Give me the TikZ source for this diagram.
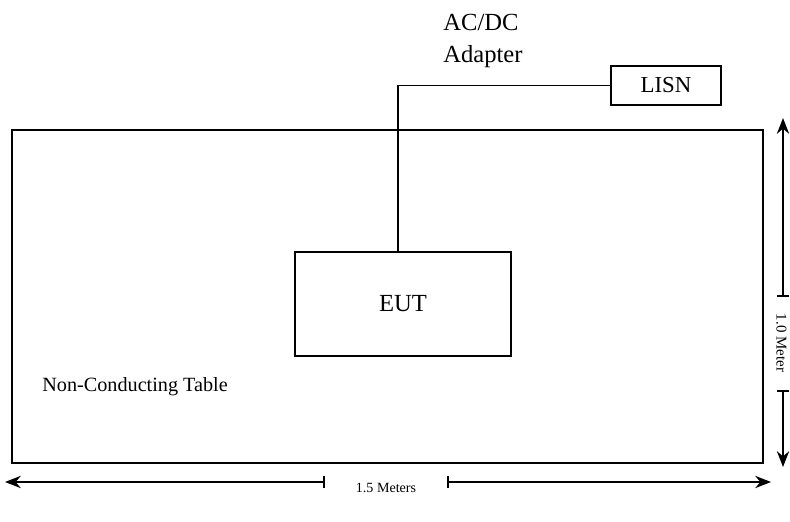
\documentclass[tikz,border=0pt]{standalone}
\usepackage{fontspec}
\setmainfont{Liberation Serif}
\usetikzlibrary{arrows.meta,positioning}
\newlength{\px}
\setlength{\px}{0.02cm}
\tikzset{
  tablebox/.style={draw,line width=1.1pt,minimum width=751\px,minimum height=333\px,inner sep=0pt},
  unitbox/.style={draw,line width=1.1pt,inner sep=0pt},
  cable/.style={line width=1.1pt},
  dimarrow/.style={{Stealth[length=9pt,width=7pt]}-{Bar[width=7pt]},line width=0.9pt},
  label/.style={font=\fontsize{14}{18}\selectfont,align=left,inner sep=0pt}
}
\begin{document}
\begin{tikzpicture}[x=0.02cm,y=-0.02cm]
      \useasboundingbox (0,0) rectangle (790,521);
      % table and units
      \node[tablebox] (table) at (387.5,296.5) {};
      \node[unitbox,minimum width=216\px,minimum height=104\px,font=\fontsize{14}{16}\selectfont] (eut) at (403,304) {EUT};
      \node[unitbox,minimum width=110\px,minimum height=39\px,font=\fontsize{13}{15}\selectfont] (lisn) at (666,85.5) {LISN};
      \node[label,anchor=north west] (adapter) at (443,14) {AC/DC\\Adapter};
      \node[font=\fontsize{11.5}{13}\selectfont,anchor=west,inner sep=0pt] (tablename) at (42,387) {Non-Conducting Table};
      % cable
      \draw[cable] ([xshift=-5\px]eut.north) |- (lisn.west);
      % dimensions
      \coordinate (hleft) at (5,482);
      \coordinate (hright) at (771,482);
      \coordinate (hgapl) at (325,482);
      \coordinate (hgapr) at (447,482);
      \node[font=\fontsize{8}{10}\selectfont,inner sep=0pt] (hlabel) at (386,488) {1.5 Meters};
      \draw[dimarrow] (hleft) -- (hgapl);
      \draw[dimarrow] (hright) -- (hgapr);
      \coordinate (vtop) at (783,118);
      \coordinate (vbottom) at (783,467);
      \coordinate (vgapt) at (783,297);
      \coordinate (vgapb) at (783,390);
      \node[font=\fontsize{8.5}{10}\selectfont,inner sep=0pt,rotate=-90] (vlabel) at (781.5,343) {1.0 Meter};
      \draw[dimarrow] (vtop) -- (vgapt);
      \draw[dimarrow] (vbottom) -- (vgapb);
    \end{tikzpicture}
\end{document}
